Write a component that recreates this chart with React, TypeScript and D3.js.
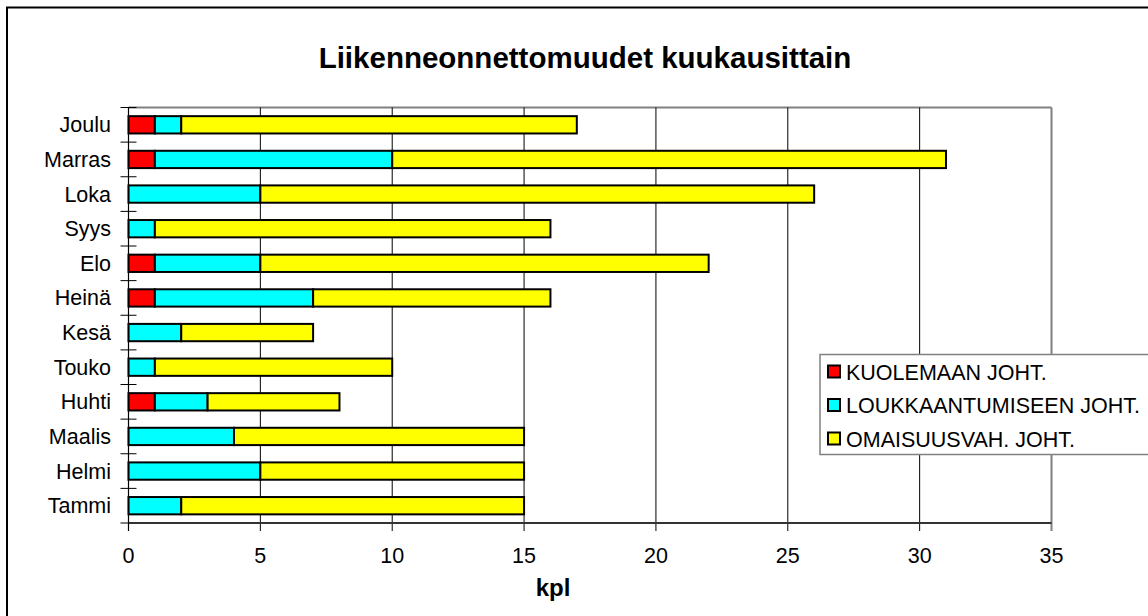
import React from "react";
import * as d3 from "d3";

const months = ["Tammi", "Helmi", "Maalis", "Huhti", "Touko", "Kesä", "Heinä", "Elo", "Syys", "Loka", "Marras", "Joulu"];
const kuolemaan = [0, 0, 0, 1, 0, 0, 1, 1, 0, 0, 1, 1];
const loukkaantumiseen = [2, 5, 4, 2, 1, 2, 6, 4, 1, 5, 9, 1];
const omaisuusvah = [13, 10, 11, 5, 9, 5, 9, 17, 15, 21, 21, 15];
const seriesNames = ["KUOLEMAAN JOHT.", "LOUKKAANTUMISEEN JOHT.", "OMAISUUSVAH. JOHT."];
const seriesColors = ["#FF0000", "#00FFFF", "#FFFF00"];
const xTicks = [0, 5, 10, 15, 20, 25, 30, 35];

const W = 1148;
const H = 616;
const plot = { left: 128.5, right: 1051.5, top: 107.5, bottom: 523 };
const FONT = "'Liberation Sans', Arial, sans-serif";

export default function App() {
  const x = d3.scaleLinear().domain([0, 35]).range([plot.left, plot.right]);
  const y = d3
    .scaleBand<string>()
    .domain([...months].reverse())
    .range([plot.top, plot.bottom])
    .paddingInner(0.5)
    .paddingOuter(0.25);

  const rows = months.map((m, i) => ({
    month: m,
    k: kuolemaan[i],
    l: loukkaantumiseen[i],
    o: omaisuusvah[i],
  }));
  const stack = d3.stack<any>().keys(["k", "l", "o"])(rows);
  const step = (plot.bottom - plot.top) / months.length;
  const boundaries = d3.range(months.length + 1).map((i) => plot.top + i * step);

  return (
    <svg
      width={W}
      height={H}
      style={{ position: "absolute", left: 0, top: 0, background: "#fff" }}
      fontFamily={FONT}
    >
      <rect x={0} y={0} width={W} height={H} fill="#fff" />
      {/* outer chart border */}
      <rect x={7} y={7.5} width={W + 20} height={H + 20} fill="none" stroke="#000" strokeWidth={2} />

      {/* title */}
      <text x={585} y={68} textAnchor="middle" fontSize={29.5} fontWeight="bold" fill="#000">
        Liikenneonnettomuudet kuukausittain
      </text>

      {/* plot frame top & right */}
      <line x1={plot.left} x2={plot.right} y1={plot.top} y2={plot.top} stroke="#808080" strokeWidth={2} />
      <line x1={plot.right} x2={plot.right} y1={plot.top} y2={plot.bottom + 8} stroke="#808080" strokeWidth={2} />

      {/* gridlines */}
      {xTicks
        .filter((t) => t > 0 && t < 35)
        .map((t) => (
          <line key={"g" + t} x1={x(t)} x2={x(t)} y1={plot.top} y2={plot.bottom + 8} stroke="#000" strokeWidth={1} />
        ))}

      {/* bars */}
      {stack.map((s, si) =>
        s.map((d, di) => {
          const w = x(d[1]) - x(d[0]);
          if (w <= 0) return null;
          return (
            <rect
              key={si + "-" + di}
              x={x(d[0])}
              y={y(rows[di].month)!}
              width={w}
              height={y.bandwidth()}
              fill={seriesColors[si]}
              stroke="#000"
              strokeWidth={2}
            />
          );
        })
      )}

      {/* left axis */}
      <line x1={plot.left} x2={plot.left} y1={plot.top} y2={plot.bottom + 8} stroke="#000" strokeWidth={1.2} />
      {boundaries.map((b, i) => (
        <line key={"yt" + i} x1={plot.left - 8} x2={plot.left + 8} y1={b} y2={b} stroke="#000" strokeWidth={1} />
      ))}
      {months.map((m) => (
        <text
          key={"yl" + m}
          x={111}
          y={y(m)! + y.bandwidth() / 2 + 7.5}
          textAnchor="end"
          fontSize={21.5}
          fill="#000"
        >
          {m}
        </text>
      ))}

      {/* bottom axis */}
      <line x1={plot.left} x2={plot.right} y1={plot.bottom} y2={plot.bottom} stroke="#333" strokeWidth={2} />
      <line x1={plot.left} x2={plot.left} y1={plot.bottom} y2={plot.bottom + 8} stroke="#000" strokeWidth={1} />
      {xTicks.map((t) => (
        <text key={"xl" + t} x={x(t)} y={563} textAnchor="middle" fontSize={21.5} fill="#000">
          {t}
        </text>
      ))}
      <text x={553} y={596} textAnchor="middle" fontSize={24} fontWeight="bold" fill="#000">
        kpl
      </text>

      {/* legend */}
      <rect x={820} y={354.5} width={400} height={100} fill="#fff" stroke="#808080" strokeWidth={1.5} />
      {seriesNames.map((n, i) => {
        const cy = 372 + i * 33.5;
        return (
          <g key={"lg" + i}>
            <rect x={828} y={cy - 6.5} width={12} height={12} fill={seriesColors[i]} stroke="#000" strokeWidth={2} />
            <text x={846} y={cy + 7.5} fontSize={21.5} fill="#000">
              {n}
            </text>
          </g>
        );
      })}
    </svg>
  );
}
